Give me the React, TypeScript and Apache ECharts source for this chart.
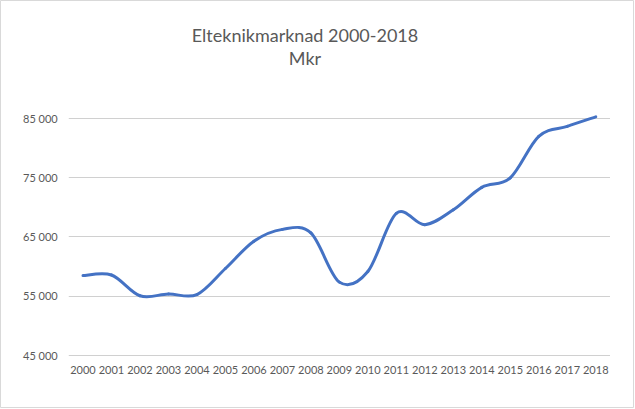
import React, { useEffect, useRef } from "react";
import * as echarts from "echarts";

const years = ["2000","2001","2002","2003","2004","2005","2006","2007","2008","2009","2010","2011","2012","2013","2014","2015","2016","2017","2018"];
const market = [58400, 58500, 55000, 55300, 55200, 59600, 64200, 66200, 65600, 57300, 59100, 68900, 67000, 69500, 73300, 74900, 81900, 83600, 85200];
const titleLines = ["Elteknikmarknad 2000-2018", "Mkr"];

const FONT = "Lato, 'Noto Sans', sans-serif";
const LINE_COLOR = "#4472C4";

export default function App() {
  const ref = useRef<HTMLDivElement>(null);
  useEffect(() => {
    document.body.style.margin = "0";
    const chart = echarts.init(ref.current!, undefined, { renderer: "svg" });
    const n = market.length;
    chart.setOption({
      animation: false,
      backgroundColor: "#ffffff",
      graphic: [
        {
          type: "rect",
          shape: { x: 0.5, y: 0.5, width: 633, height: 407 },
          style: { fill: "none", stroke: "#d9d9d9", lineWidth: 1 },
          silent: true,
        },
        {
          type: "text",
          x: 305,
          y: 35,
          style: {
            text: titleLines[0],
            fontFamily: FONT,
            fontSize: 18,
            fill: "#595959",
            textAlign: "center",
            textVerticalAlign: "middle",
          },
        },
        {
          type: "text",
          x: 305,
          y: 58,
          style: {
            text: titleLines[1],
            fontFamily: FONT,
            fontSize: 18,
            fill: "#595959",
            textAlign: "center",
            textVerticalAlign: "middle",
          },
        },
      ],
      grid: { left: 68.75, right: 25, top: 118, bottom: 54, containLabel: false },
      xAxis: {
        type: "category",
        data: years,
        boundaryGap: true,
        axisLine: { show: false },
        axisTick: { show: false },
        axisLabel: {
          interval: 0,
          margin: 9,
          color: "#595959",
          fontFamily: FONT,
          fontSize: 11,
        },
      },
      yAxis: {
        type: "value",
        min: 45000,
        max: 85000,
        interval: 10000,
        axisLine: { show: false },
        axisTick: { show: false },
        splitLine: { lineStyle: { color: "#d0d0d0", width: 1 } },
        axisLabel: {
          margin: 11,
          color: "#595959",
          fontFamily: FONT,
          fontSize: 11,
          formatter: (v: number) => {
            const s = String(Math.round(v));
            return s.slice(0, s.length - 3) + " " + s.slice(-3);
          },
        },
      },
      series: [
        {
          type: "custom",
          clip: false,
          encode: { x: 0, y: 1 },
          data: market.map((v, i) => [i, v]),
          renderItem: (params: any, api: any) => {
            const i = params.dataIndex;
            if (i >= n - 1) return null;
            const pt = (k: number) => {
              const kk = Math.max(0, Math.min(n - 1, k));
              return api.coord([kk, market[kk]]);
            };
            const p0 = pt(i - 1);
            const p1 = pt(i);
            const p2 = pt(i + 1);
            const p3 = pt(i + 2);
            return {
              type: "bezierCurve",
              shape: {
                x1: p1[0],
                y1: p1[1],
                x2: p2[0],
                y2: p2[1],
                cpx1: p1[0] + (p2[0] - p0[0]) / 6,
                cpy1: p1[1] + (p2[1] - p0[1]) / 6,
                cpx2: p2[0] - (p3[0] - p1[0]) / 6,
                cpy2: p2[1] - (p3[1] - p1[1]) / 6,
              },
              style: {
                fill: "none",
                stroke: LINE_COLOR,
                lineWidth: 3,
                lineCap: "round",
              },
            };
          },
        },
      ],
    });
    return () => chart.dispose();
  }, []);
  return <div ref={ref} style={{ width: 635, height: 409 }} />;
}
